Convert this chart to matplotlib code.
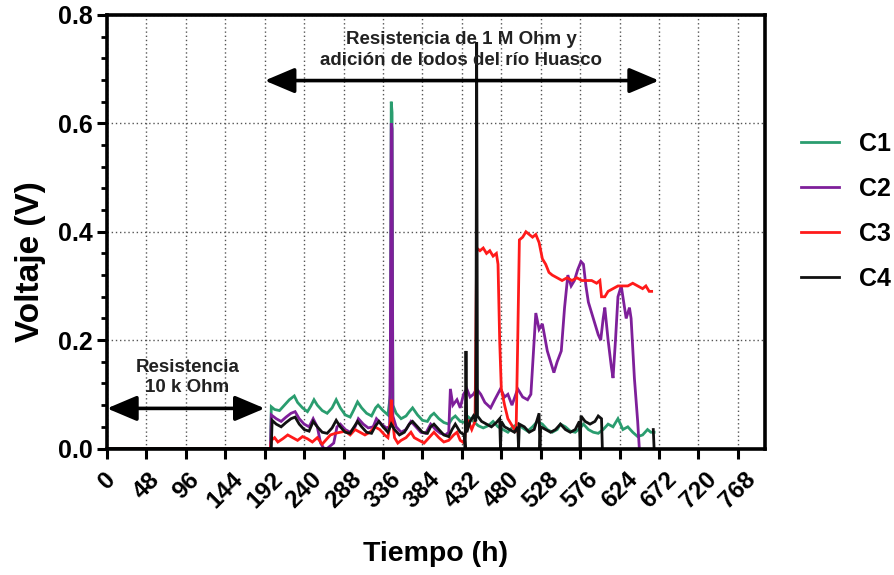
import matplotlib
matplotlib.use("Agg")
import matplotlib.pyplot as plt
import numpy as np

plt.rcParams['font.family'] = ['Liberation Sans', 'DejaVu Sans']
plt.rcParams['font.weight'] = 'bold'

nan = np.nan

# (hours, volts)
c1 = [(0, 0), (199, 0), (200, 0.077), (204, 0.072), (210, 0.07), (216, 0.08), (222, 0.09), (228, 0.097),
      (232, 0.085), (238, 0.075), (244, 0.068), (248, 0.078), (252, 0.09), (256, 0.08), (262, 0.07),
      (268, 0.065), (274, 0.075), (279, 0.09), (284, 0.075), (290, 0.062), (296, 0.058), (300, 0.07),
      (305, 0.086), (310, 0.075), (316, 0.065), (322, 0.06), (327, 0.075), (330, 0.08), (336, 0.07),
      (342, 0.062), (345, 0.1), (346, 0.64), (347, 0.62), (348, 0.08), (352, 0.065), (358, 0.055),
      (364, 0.06), (368, 0.068), (372, 0.075), (378, 0.062), (384, 0.052), (390, 0.05), (394, 0.06),
      (398, 0.065), (404, 0.055), (410, 0.048), (416, 0.045), (420, 0.055), (424, 0.06), (430, 0.05),
      (436, 0.048), (440, 0.058), (446, 0.05), (452, 0.042), (458, 0.038), (464, 0.042), (470, 0.05),
      (476, 0.04), (482, 0.035), (488, 0.03), (494, 0.04), (500, 0.045), (506, 0.038), (512, 0.032),
      (518, 0.04), (524, 0.05), (530, 0.045), (536, 0.035), (542, 0.03), (548, 0.035), (552, 0.045),
      (558, 0.04), (564, 0.032), (570, 0.03), (576, 0.038), (580, 0.045), (586, 0.035), (592, 0.03),
      (598, 0.028), (604, 0.035), (610, 0.045), (616, 0.04), (622, 0.055), (628, 0.035), (634, 0.04),
      (640, 0.03), (646, 0.022), (652, 0.025), (658, 0.035), (662, 0.03), (666, 0.03)]

c2 = [(0, 0), (199, 0), (200, 0.062), (206, 0.055), (212, 0.05), (218, 0.058), (224, 0.065), (229, 0.068),
      (234, 0.055), (240, 0.045), (246, 0.04), (251, 0.055), (256, 0.04), (260, 0.01), (264, 0.0),
      (268, 0.0), (272, 0.005), (276, 0.01), (280, 0.04), (284, 0.045), (290, 0.035), (296, 0.03),
      (302, 0.04), (306, 0.055), (312, 0.045), (318, 0.038), (324, 0.04), (328, 0.055), (334, 0.045),
      (340, 0.038), (344, 0.04), (345, 0.2), (346, 0.6), (347, 0.59), (348, 0.06), (352, 0.04),
      (358, 0.03), (364, 0.035), (370, 0.05), (376, 0.04), (382, 0.03), (388, 0.028), (394, 0.045),
      (400, 0.035), (406, 0.028), (412, 0.025), (416, 0.03), (418, 0.11), (421, 0.08), (426, 0.09),
      (430, 0.075), (434, 0.1), (438, 0.11), (442, 0.095), (446, 0.1), (450, 0.11), (455, 0.1),
      (460, 0.085), (467, 0.075), (472, 0.09), (479, 0.11), (484, 0.095), (488, 0.1), (493, 0.08),
      (500, 0.11), (506, 0.095), (512, 0.09), (516, 0.1), (520, 0.2), (522, 0.25), (526, 0.22),
      (530, 0.23), (536, 0.18), (540, 0.16), (544, 0.14), (548, 0.16), (553, 0.18), (557, 0.26),
      (561, 0.32), (565, 0.3), (569, 0.31), (573, 0.33), (577, 0.345), (580, 0.34), (583, 0.3),
      (586, 0.27), (590, 0.25), (594, 0.23), (598, 0.21), (601, 0.2), (604, 0.24), (606, 0.26),
      (610, 0.2), (614, 0.15), (616, 0.13), (619, 0.2), (622, 0.28), (626, 0.3), (629, 0.27),
      (632, 0.24), (636, 0.26), (638, 0.24), (642, 0.13), (646, 0.05), (648, 0.0)]

c3 = [(0, 0), (199, 0), (200, 0.015), (204, 0.02), (208, 0.012), (214, 0.018), (220, 0.025), (226, 0.02),
      (232, 0.015), (238, 0.022), (244, 0.018), (250, 0.012), (256, 0.02), (262, 0.008), (266, 0.015),
      (272, 0.025), (278, 0.028), (284, 0.03), (290, 0.032), (296, 0.025), (302, 0.035), (308, 0.03),
      (314, 0.025), (320, 0.03), (326, 0.04), (332, 0.035), (338, 0.025), (342, 0.02), (345, 0.05),
      (346, 0.09), (347, 0.06), (350, 0.02), (354, 0.01), (358, 0.015), (364, 0.02), (370, 0.03),
      (374, 0.02), (380, 0.015), (386, 0.01), (392, 0.02), (398, 0.03), (404, 0.02), (410, 0.012),
      (416, 0.015), (422, 0.025), (426, 0.03), (430, 0.015), (435, 0.01), (437, 0.045), (440, 0.05),
      (444, 0.035), (448, 0.05), (449, 0.2), (450, 0.37), (454, 0.365), (458, 0.37), (462, 0.36),
      (466, 0.365), (470, 0.355), (474, 0.36), (476, 0.34), (478, 0.2), (480, 0.11), (484, 0.08),
      (488, 0.055), (494, 0.04), (498, 0.03), (500, 0.2), (502, 0.385), (506, 0.39), (510, 0.4),
      (514, 0.395), (518, 0.39), (522, 0.395), (526, 0.38), (530, 0.35), (534, 0.34), (538, 0.325),
      (542, 0.32), (548, 0.315), (554, 0.31), (560, 0.315), (566, 0.31), (572, 0.315), (578, 0.31),
      (584, 0.31), (590, 0.31), (596, 0.305), (600, 0.31), (602, 0.28), (606, 0.28), (610, 0.29),
      (616, 0.295), (622, 0.3), (628, 0.3), (634, 0.3), (640, 0.305), (646, 0.3), (652, 0.295),
      (656, 0.3), (660, 0.29), (663, 0.29)]

c4 = [(0, 0), (199, 0), (200, 0.0), (201, 0.052), (206, 0.045), (212, 0.04), (218, 0.048), (224, 0.055),
      (229, 0.058), (234, 0.045), (240, 0.035), (246, 0.032), (251, 0.05), (256, 0.04), (262, 0.03),
      (268, 0.028), (274, 0.038), (279, 0.052), (284, 0.04), (290, 0.03), (296, 0.028), (300, 0.038),
      (305, 0.05), (310, 0.04), (316, 0.03), (322, 0.028), (327, 0.042), (331, 0.05), (336, 0.04),
      (342, 0.03), (346, 0.045), (350, 0.035), (356, 0.025), (362, 0.03), (368, 0.045), (372, 0.05),
      (378, 0.04), (384, 0.03), (390, 0.028), (394, 0.04), (398, 0.045), (404, 0.035), (410, 0.025),
      (416, 0.022), (420, 0.035), (424, 0.045), (430, 0.03), (435, 0.025), (436, 0.0), (437, 0.18),
      (438, 0.03), (442, 0.05), (446, 0.06), (449, 0.05), (450, 0.75), (451, 0.06), (456, 0.05),
      (462, 0.045), (468, 0.04), (474, 0.048), (478, 0.055), (479, 0.0), (480, 0.05), (484, 0.04),
      (490, 0.035), (496, 0.03), (500, 0.04), (501, 0.0), (502, 0.045), (508, 0.04), (514, 0.03),
      (520, 0.035), (526, 0.065), (527, 0.0), (528, 0.04), (534, 0.035), (540, 0.03), (546, 0.035),
      (552, 0.045), (558, 0.035), (564, 0.03), (570, 0.035), (575, 0.05), (576, 0.0), (577, 0.06),
      (582, 0.05), (588, 0.045), (594, 0.05), (598, 0.06), (602, 0.055), (603, 0.0), (604, nan),
      (664, nan), (665, 0.035), (666, 0.0)]

series = [("C1", c1, "#2A9D6F"), ("C2", c2, "#7E1F9A"), ("C3", c3, "#FF1A1A"), ("C4", c4, "#111111")]

x_ticks = list(range(0, 769, 48))
y_ticks = [0.0, 0.2, 0.4, 0.6, 0.8]

fig = plt.figure(figsize=(8.95, 5.75), dpi=100)
ax = fig.add_axes([107 / 895, 1 - 448.5 / 575, (765 - 107) / 895, (448.5 - 15) / 575])

for name, pts, col in series:
    t = [p[0] for p in pts]
    v = [p[1] for p in pts]
    ax.plot(t, v, color=col, lw=2.0, label=name, solid_joinstyle='miter')

ax.set_xlim(0, 801)
ax.set_ylim(0, 0.8)
ax.set_xticks(x_ticks)
ax.set_xticklabels([str(x) for x in x_ticks], rotation=45, fontsize=17.5, fontweight='bold')
ax.set_yticks(y_ticks)
ax.set_yticklabels([f"{y:.1f}" for y in y_ticks], fontsize=18, fontweight='bold')
ax.set_yticks(np.arange(0, 0.81, 0.04), minor=True)
ax.tick_params(axis='both', which='major', direction='out', length=7, width=2.2, pad=3)
ax.tick_params(axis='x', which='major', pad=7)
ax.tick_params(axis='y', which='minor', direction='out', length=4, width=2)
for s in ax.spines.values():
    s.set_linewidth(2.6)
ax.grid(True, which='major', color='#555555', lw=1.0, ls=(0, (1, 2)))

ax.set_xlabel("Tiempo (h)", fontsize=20.5, fontweight='bold')
ax.xaxis.set_label_coords(0.5, -0.213)
ax.set_ylabel("Voltaje (V)", fontsize=24, fontweight='bold')
ax.yaxis.set_label_coords(-0.092, 0.43)

# annotations
arrow = dict(arrowstyle='<|-|>,head_length=1.3,head_width=0.55', color='black', lw=2.6,
             shrinkA=0, shrinkB=0, mutation_scale=14)
ax.annotate("", xy=(0, 0.074), xytext=(192, 0.074), arrowprops=arrow)
ax.annotate("", xy=(192, 0.679), xytext=(672, 0.679), arrowprops=arrow)
ax.text(98, 0.131, "Resistencia\n10 k Ohm", ha='center', va='center', fontsize=13.5,
        fontweight='bold', linespacing=1.3, color='#222222')
ax.text(431, 0.736, "Resistencia de 1 M Ohm y\nadición de lodos del río Huasco", ha='center',
        va='center', fontsize=13.5, fontweight='bold', linespacing=1.3, color='#222222')

ax.legend(loc='upper left', bbox_to_anchor=(1.021, 0.783), frameon=False, fontsize=18,
          handlelength=1.5, handletextpad=0.8, labelspacing=0.84)

fig.savefig("out.png", dpi=100)
